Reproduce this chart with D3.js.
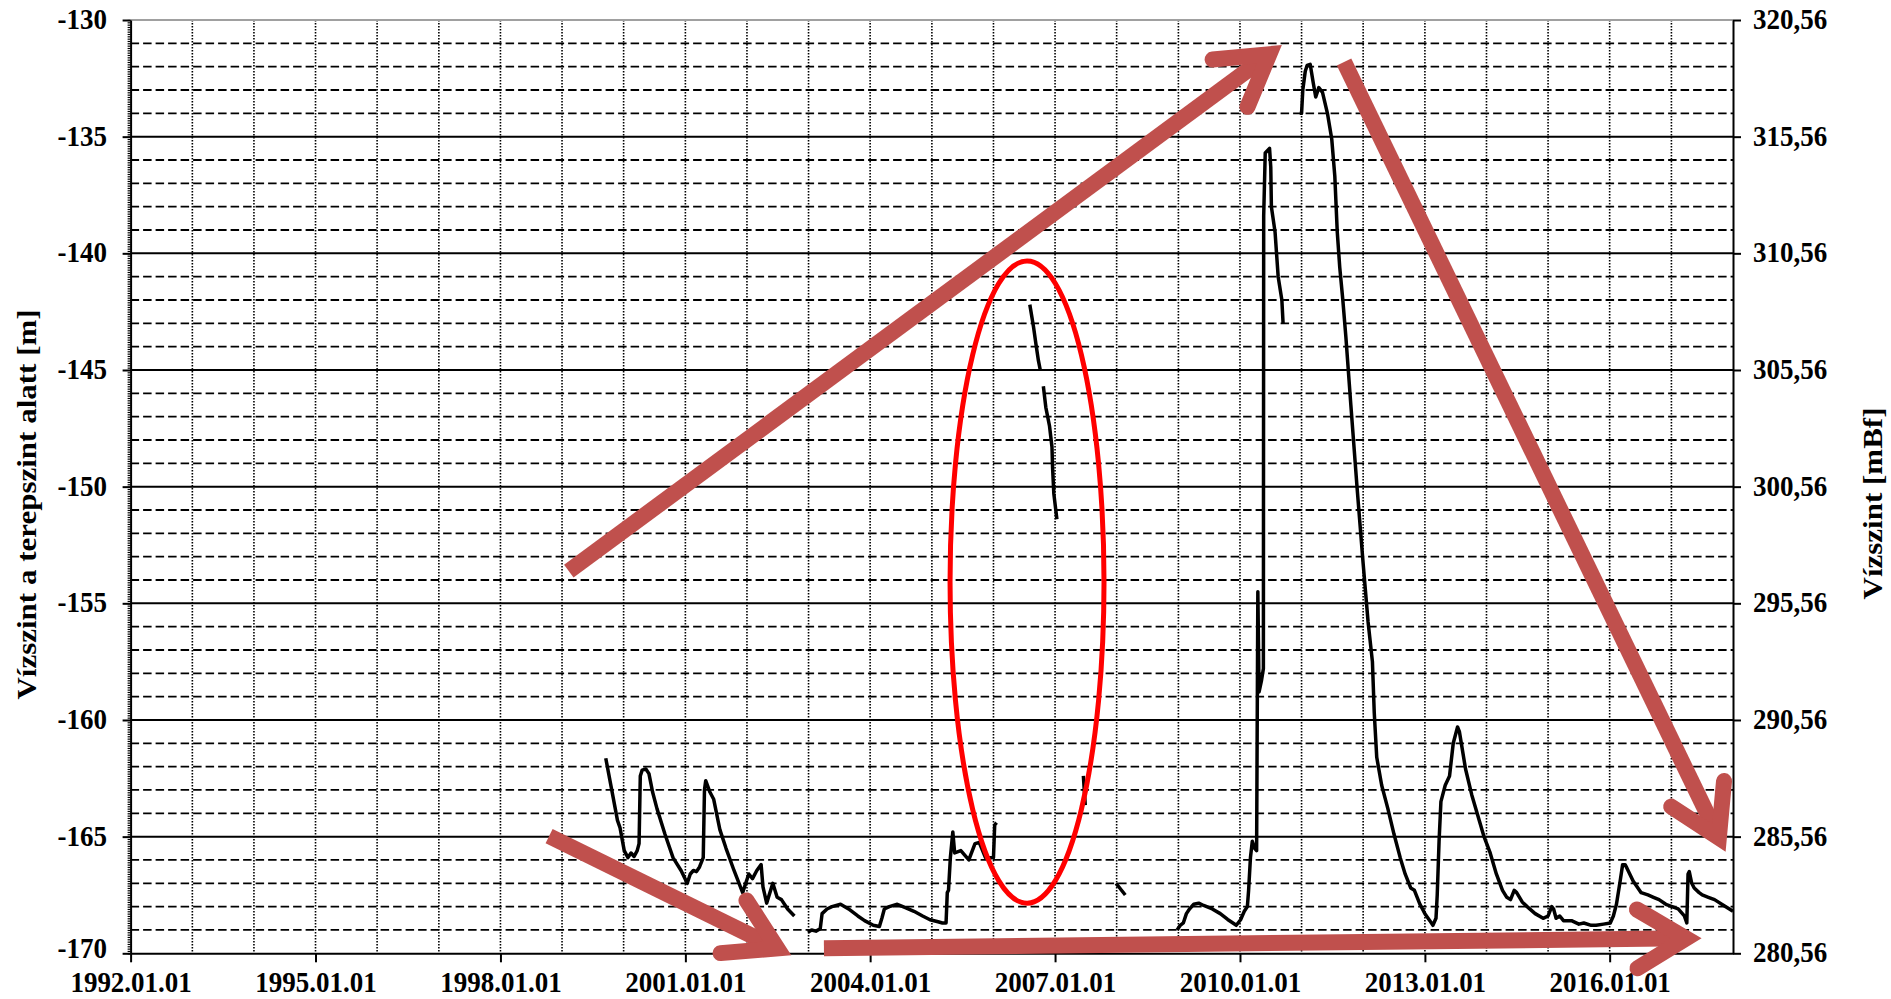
<!DOCTYPE html>
<html>
<head>
<meta charset="utf-8">
<script src="https://cdn.jsdelivr.net/npm/d3@7"></script>
<style>
  html, body { margin: 0; padding: 0; background: #fff; }
  svg { display: block; }
  text { font-family: "Liberation Serif", "Times New Roman", serif; font-weight: bold; fill: #000; }
</style>
</head>
<body>
<svg id="chart" width="1891" height="999"></svg>
<script>
// ---- Water level below ground [m], logged as [decimal year, level] runs (gaps between runs) ----
const run1999 = [
  [1999.71,-161.64],[1999.80,-162.9],[1999.90,-164.3],[1999.94,-164.6],[2000.01,-165.6],[2000.07,-165.9],
  [2000.12,-165.7],[2000.17,-165.85],[2000.22,-165.6],[2000.25,-165.3],[2000.27,-162.4],[2000.30,-162.15],
  [2000.36,-162.1],[2000.41,-162.3],[2000.47,-163.1],[2000.54,-163.8],[2000.67,-164.9],[2000.80,-165.9],
  [2000.93,-166.45],[2001.03,-167.0],[2001.08,-166.6],[2001.13,-166.45],[2001.18,-166.5],[2001.23,-166.3],
  [2001.29,-165.9],[2001.31,-163.0],[2001.33,-162.6],[2001.40,-163.1],[2001.46,-163.4],[2001.56,-164.7],
  [2001.66,-165.5],[2001.79,-166.45],[2001.93,-167.4],[2002.03,-166.6],[2002.09,-166.8],[2002.16,-166.45],
  [2002.23,-166.2],[2002.26,-167.15],[2002.32,-167.85],[2002.42,-167.0],[2002.49,-167.6],[2002.56,-167.7],
  [2002.66,-168.1],[2002.77,-168.4]
];
const run2003 = [
  [2002.99,-169.1],[2003.05,-169.0],[2003.12,-169.05],[2003.19,-168.95],[2003.22,-168.3],[2003.30,-168.1],
  [2003.38,-168.0],[2003.52,-167.9],[2003.65,-168.1],[2003.80,-168.4],[2003.91,-168.6],[2004.05,-168.8],
  [2004.15,-168.85],[2004.19,-168.5],[2004.23,-168.1],[2004.31,-168.0],[2004.44,-167.9],[2004.58,-168.05],
  [2004.71,-168.2],[2004.85,-168.4],[2004.97,-168.56],[2005.10,-168.65],[2005.17,-168.7],[2005.23,-168.7],
  [2005.25,-167.4],[2005.27,-167.3],[2005.30,-165.9],[2005.34,-164.8],[2005.37,-165.7],[2005.47,-165.6],
  [2005.60,-166.0],[2005.70,-165.3],[2005.77,-165.25],[2005.87,-165.9],[2006.00,-165.9],[2006.02,-164.5],
  [2006.05,-164.4]
];
const run2006a = [[2006.59,-142.2],[2006.65,-143.15],[2006.69,-143.9],[2006.73,-144.6],[2006.76,-145.0]];
const run2006b = [[2006.81,-145.7],[2006.85,-146.6],[2006.91,-147.4],[2006.95,-148.3],[2006.96,-149.2],[2006.98,-150.3],[2007.03,-151.4]];
const run2007 = [[2007.46,-162.4],[2007.49,-163.65]];
const run2008 = [[2007.99,-167.0],[2008.05,-167.2],[2008.14,-167.5]];
const run2009 = [
  [2008.98,-169.0],[2009.03,-168.8],[2009.08,-168.7],[2009.13,-168.3],[2009.18,-168.1],[2009.25,-167.9],
  [2009.33,-167.85],[2009.41,-167.95],[2009.55,-168.1],[2009.68,-168.3],[2009.80,-168.55],[2009.94,-168.8],
  [2010.01,-168.56],[2010.07,-168.2],[2010.12,-168.0],[2010.14,-167.3],[2010.17,-165.9],[2010.20,-165.2],
  [2010.24,-165.5],[2010.27,-165.6],[2010.29,-154.5],[2010.31,-158.8],[2010.35,-158.3],[2010.38,-157.8],
  [2010.385,-138.4],[2010.41,-135.7],[2010.48,-135.5],[2010.50,-136.3],[2010.51,-138.0],[2010.57,-139.1],
  [2010.62,-141.0],[2010.68,-142.0],[2010.70,-143.0]
];
const run2011 = [
  [2010.97,-134.0],[2011.00,-134.0],[2011.02,-133.0],[2011.06,-132.2],[2011.09,-131.95],[2011.14,-131.9],
  [2011.19,-132.7],[2011.23,-133.3],[2011.28,-132.9],[2011.34,-133.1],[2011.42,-134.0],[2011.49,-135.1],
  [2011.54,-136.7],[2011.58,-139.1],[2011.62,-140.6],[2011.67,-142.0],[2011.72,-143.6],[2011.80,-146.5],
  [2011.90,-150.0],[2012.00,-153.3],[2012.08,-155.8],[2012.15,-157.5],[2012.18,-159.7],[2012.22,-161.6],
  [2012.30,-162.8],[2012.40,-163.8],[2012.50,-164.9],[2012.60,-165.9],[2012.68,-166.6],[2012.77,-167.2],
  [2012.83,-167.3],[2012.92,-167.9],[2013.00,-168.3],[2013.08,-168.6],[2013.13,-168.8],[2013.18,-168.5],
  [2013.20,-167.5],[2013.23,-165.2],[2013.26,-163.5],[2013.33,-162.8],[2013.40,-162.4],[2013.46,-161.0],
  [2013.53,-160.3],[2013.56,-160.5],[2013.66,-162.1],[2013.76,-163.2],[2013.86,-164.1],[2013.96,-165.0],
  [2014.06,-165.7],[2014.16,-166.6],[2014.26,-167.3],[2014.33,-167.6],[2014.39,-167.7],[2014.45,-167.3],
  [2014.49,-167.4],[2014.58,-167.8],[2014.66,-168.0],[2014.79,-168.3],[2014.92,-168.5],[2015.00,-168.4],
  [2015.06,-168.0],[2015.09,-168.1],[2015.13,-168.5],[2015.19,-168.4],[2015.25,-168.6],[2015.38,-168.6],
  [2015.50,-168.75],[2015.58,-168.7],[2015.70,-168.8],[2015.78,-168.8],[2015.90,-168.75],[2016.01,-168.7],
  [2016.06,-168.4],[2016.11,-167.9],[2016.17,-166.9],[2016.21,-166.2],[2016.25,-166.2],[2016.28,-166.35],
  [2016.38,-166.9],[2016.51,-167.4],[2016.62,-167.5],[2016.71,-167.6],[2016.80,-167.7],[2016.91,-167.9],
  [2017.01,-168.0],[2017.11,-168.1],[2017.21,-168.4],[2017.25,-168.7],[2017.27,-166.6],[2017.29,-166.5],
  [2017.33,-167.0],[2017.37,-167.2],[2017.45,-167.4],[2017.50,-167.5],[2017.60,-167.6],[2017.70,-167.7],
  [2017.85,-167.95],[2018.00,-168.2]
];
const levelRuns = [run1999, run2003, run2006a, run2006b, run2007, run2008, run2009, run2011];

// ---- Axis ticks ----
const dateTickYears = [1992, 1995, 1998, 2001, 2004, 2007, 2010, 2013, 2016];
const depthTicks = [-170, -165, -160, -155, -150, -145, -140, -135, -130];
const elevationTicks = [280.56, 285.56, 290.56, 295.56, 300.56, 305.56, 310.56, 315.56, 320.56];

// ---- Annotations: trend arrows [start, tip] and the highlighted 2006-2007 readings ----
const arrowStarts = [[1999.11, -153.62], [2011.69, -131.80], [1998.79, -164.98], [2003.25, -169.78]];
const arrowTips   = [[2010.68, -131.07], [2017.88, -165.65], [2002.72, -170.08], [2017.49, -169.35]];
const highlight = { year: 2006.545, level: -154.09, halfYears: 1.25, halfMetres: 13.76 };

// ---- Layout ----
const plotLeft = 130.6, plotRight = 1733, plotTop = 20, plotBottom = 953.3;
const tickSqueeze = 0.9;    // narrow glyph width used by the tick labels
const titleSqueeze = 0.86;  // and by the axis titles

const toDate = yr => {
  const y = Math.floor(yr);
  const s = Date.UTC(y, 0, 1), e = Date.UTC(y + 1, 0, 1);
  return new Date(s + (yr - y) * (e - s));
};

const svg = d3.select("#chart");
const x = d3.scaleUtc().domain([toDate(1992), toDate(2018)]).range([plotLeft, plotRight]);
const y = d3.scaleLinear().domain([-170, -130]).range([plotBottom, plotTop]);
const yR = d3.scaleLinear().domain([280.56, 320.56]).range([plotBottom, plotTop]);

svg.append("rect").attr("width", 1891).attr("height", 999).attr("fill", "#fff");

// Grid: dotted yearly verticals, dashed 1 m lines, solid 5 m lines
const grid = svg.append("g");
const yearLines = x.ticks(d3.utcYear.every(1)).filter(d => +d > +x.domain()[0] && +d < +x.domain()[1]);
grid.selectAll("line.v").data(yearLines).join("line")
  .attr("x1", d => x(d)).attr("x2", d => x(d))
  .attr("y1", plotTop).attr("y2", plotBottom)
  .attr("stroke", "#000").attr("stroke-width", 1.6).attr("stroke-dasharray", "1.5,1.5");

const metreLines = d3.range(-169, -130, 1);
grid.selectAll("line.minor").data(metreLines.filter(v => v % 5 !== 0)).join("line")
  .attr("x1", plotLeft).attr("x2", plotRight)
  .attr("y1", d => y(d)).attr("y2", d => y(d))
  .attr("stroke", "#000").attr("stroke-width", 1.8).attr("stroke-dasharray", "8.5,4");
grid.selectAll("line.major").data(metreLines.filter(v => v % 5 === 0)).join("line")
  .attr("x1", plotLeft).attr("x2", plotRight)
  .attr("y1", d => y(d)).attr("y2", d => y(d))
  .attr("stroke", "#000").attr("stroke-width", 2);

// top frame line
svg.append("line")
  .attr("x1", plotLeft).attr("x2", plotRight).attr("y1", y(-130)).attr("y2", y(-130))
  .attr("stroke", "#a0a0a0").attr("stroke-width", 2);

// ---- Axes ----
function styleAxis(g) {
  g.attr("font-size", 30).attr("font-family", null);
  g.selectAll(".domain").attr("stroke", "#000").attr("stroke-width", 2);
  g.selectAll(".tick line").attr("stroke", "#000").attr("stroke-width", 2);
}

// fine ruler marks along the left axis
svg.append("g")
  .attr("transform", `translate(${plotLeft},0)`)
  .call(d3.axisLeft(y).tickValues(d3.range(0, 401).map(i => -170 + i * 0.1)).tickSize(3).tickSizeOuter(0).tickFormat(""))
  .call(g => g.select(".domain").remove())
  .call(g => g.selectAll(".tick line").attr("stroke", "#000").attr("stroke-width", 1.2));

const leftAxis = svg.append("g")
  .attr("transform", `translate(${plotLeft},0)`)
  .call(d3.axisLeft(y).tickValues(depthTicks).tickSize(8).tickSizeOuter(0).tickFormat(d => String(d)))
  .call(styleAxis);
leftAxis.selectAll(".tick text")
  .attr("x", null)
  .attr("dy", d => d === -170 ? "0.15em" : "0.28em")   // lowest label kept clear of the date row
  .attr("transform", `translate(-23.6,0) scale(${tickSqueeze},1)`);

const commaFmt = d3.formatLocale({ decimal: ",", thousands: " ", grouping: [3], currency: ["", ""] }).format(".2f");
const rightAxis = svg.append("g")
  .attr("transform", `translate(${plotRight},0)`)
  .call(d3.axisRight(yR).tickValues(elevationTicks).tickSize(8).tickSizeOuter(0).tickFormat(commaFmt))
  .call(styleAxis);
rightAxis.selectAll(".tick text")
  .attr("x", null).attr("dy", "0.28em")
  .attr("transform", `translate(20,0) scale(${tickSqueeze},1)`);

const bottomAxis = svg.append("g")
  .attr("transform", `translate(0,${plotBottom})`)
  .call(d3.axisBottom(x).tickValues(dateTickYears.map(toDate)).tickSize(9).tickPadding(8)
        .tickSizeOuter(0).tickFormat(d3.utcFormat("%Y.%m.%d")))
  .call(styleAxis);
bottomAxis.selectAll(".tick text").attr("transform", `scale(${tickSqueeze},1)`);

// ---- Axis titles ----
svg.append("text")
  .attr("transform", `translate(27,504.5) scale(${titleSqueeze},1) rotate(-90)`)
  .attr("text-anchor", "middle").attr("dominant-baseline", "central")
  .attr("font-size", 31)
  .text("Vízszint a terepszint alatt [m]");
svg.append("text")
  .attr("transform", `translate(1873,503.5) scale(${titleSqueeze},1) rotate(-90)`)
  .attr("text-anchor", "middle").attr("dominant-baseline", "central")
  .attr("font-size", 31)
  .text("Vízszint [mBf]");

// ---- Water level series ----
const line = d3.line().x(d => x(toDate(d[0]))).y(d => y(d[1]));
svg.append("g").selectAll("path").data(levelRuns).join("path")
  .attr("d", line)
  .attr("fill", "none").attr("stroke", "#000").attr("stroke-width", 3.5)
  .attr("stroke-linejoin", "round");

// ---- Highlight ellipse ----
const ecx = x(toDate(highlight.year));
svg.append("ellipse")
  .attr("cx", ecx)
  .attr("cy", y(highlight.level))
  .attr("rx", x(toDate(highlight.year + highlight.halfYears)) - ecx)
  .attr("ry", y(highlight.level) - y(highlight.level + highlight.halfMetres))
  .attr("fill", "none").attr("stroke", "#ff0000").attr("stroke-width", 5);

// ---- Trend arrows (thick shaft + open head) ----
const arrowColour = "#c0504d", arrowWidth = 16, headLen = 57, headAngle = 31 * Math.PI / 180;
const arrows = arrowStarts.map((s, i) => ({ s, t: arrowTips[i] }));
const ag = svg.append("g");
arrows.forEach(a => {
  const p0 = [x(toDate(a.s[0])), y(a.s[1])];
  const tip = [x(toDate(a.t[0])), y(a.t[1])];
  const dx = tip[0] - p0[0], dy = tip[1] - p0[1], len = Math.hypot(dx, dy);
  const ux = dx / len, uy = dy / len;
  const back = (arrowWidth / 2) / Math.sin(headAngle);
  const c = [tip[0] - ux * back, tip[1] - uy * back];
  const wing = sgn => {
    const ang = sgn * headAngle;
    const vx = -ux * Math.cos(ang) + uy * Math.sin(ang);
    const vy = -ux * Math.sin(ang) - uy * Math.cos(ang);
    return [c[0] + vx * headLen, c[1] + vy * headLen];
  };
  const w1 = wing(1), w2 = wing(-1);
  ag.append("path")
    .attr("d", `M${p0[0]},${p0[1]}L${c[0]},${c[1]}`)
    .attr("stroke", arrowColour).attr("stroke-width", arrowWidth).attr("fill", "none")
    .attr("stroke-linecap", "butt");
  ag.append("path")
    .attr("d", `M${w1[0]},${w1[1]}L${c[0]},${c[1]}L${w2[0]},${w2[1]}`)
    .attr("stroke", arrowColour).attr("stroke-width", arrowWidth).attr("fill", "none")
    .attr("stroke-linejoin", "miter").attr("stroke-miterlimit", 10).attr("stroke-linecap", "round");
});
</script>
</body>
</html>
